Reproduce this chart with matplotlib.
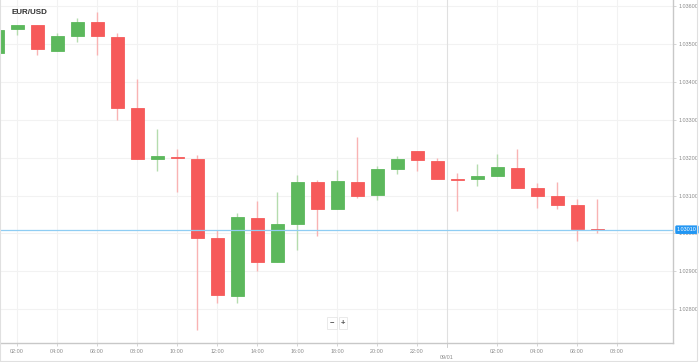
# EUR/USD hourly candles
from matplotlib import pyplot as plt
from matplotlib.patches import Rectangle

plt.rcParams["font.family"] = ["Liberation Sans", "DejaVu Sans"]

# hours counted from midnight of the first day (24 = 00:00 next day)
hours = list(range(1, 32))
opens = [1.03476, 1.03539, 1.03550, 1.03481, 1.03521, 1.03558, 1.03518, 1.03331,
         1.03196, 1.03202, 1.03196, 1.02988, 1.02835, 1.03041, 1.02924, 1.03025,
         1.03136, 1.03064, 1.03136, 1.03101, 1.03170, 1.03217, 1.03191, 1.03143,
         1.03143, 1.03151, 1.03172, 1.03120, 1.03099, 1.03075, 1.03013]
highs = [1.03537, 1.03550, 1.03550, 1.03529, 1.03568, 1.03584, 1.03529, 1.03407,
         1.03275, 1.03223, 1.03207, 1.03009, 1.03054, 1.03085, 1.03109, 1.03154,
         1.03141, 1.03167, 1.03254, 1.03178, 1.03204, 1.03217, 1.03199, 1.03159,
         1.03183, 1.03209, 1.03223, 1.03133, 1.03136, 1.03091, 1.03091]
lows = [1.03476, 1.03523, 1.03471, 1.03481, 1.03505, 1.03471, 1.03299, 1.03196,
        1.03165, 1.03109, 1.02745, 1.02816, 1.02816, 1.02901, 1.02924, 1.02956,
        1.02993, 1.03064, 1.03093, 1.03088, 1.03157, 1.03165, 1.03143, 1.03059,
        1.03125, 1.03151, 1.03120, 1.03067, 1.03064, 1.02980, 1.03001]
closes = [1.03537, 1.03550, 1.03487, 1.03521, 1.03558, 1.03521, 1.03331, 1.03196,
          1.03204, 1.03199, 1.02988, 1.02837, 1.03044, 1.02924, 1.03025, 1.03136,
          1.03064, 1.03138, 1.03099, 1.03170, 1.03196, 1.03194, 1.03143, 1.03141,
          1.03151, 1.03175, 1.03120, 1.03099, 1.03075, 1.03012, 1.03010]

last_price = 1.03010
price_ticks = [1.028, 1.029, 1.030, 1.031, 1.032, 1.033, 1.034, 1.035, 1.036]
time_ticks = [2, 4, 6, 8, 10, 12, 14, 16, 18, 20, 22, 26, 28, 30, 32]
time_labels = ["02:00", "04:00", "06:00", "08:00", "10:00", "12:00", "14:00", "16:00",
               "18:00", "20:00", "22:00", "02:00", "04:00", "06:00", "08:00"]
date_pos = 23.5
date_label = "09/01"

up_body, up_wick = "#5cb85c", "#b5dcae"
dn_body, dn_wick = "#f65a5a", "#f9b3b3"

fig = plt.figure(figsize=(6.99, 3.62), dpi=100)
ax = fig.add_axes([0, 19 / 362, 673 / 699, 343 / 362])

# grid
for p in price_ticks:
    ax.axhline(p, color="#f2f2f2", lw=0.8, zorder=0)
for t in time_ticks:
    ax.axvline(t, color="#f2f2f2", lw=0.8, zorder=0)
ax.axvline(date_pos, color="#e0e0e0", lw=0.8, zorder=0)

# candles
for h, o, hi, lo, c in zip(hours, opens, highs, lows, closes):
    body = up_body if c > o else dn_body
    wick = up_wick if c > o else dn_wick
    ax.vlines(h, lo, hi, color=wick, lw=1.0, zorder=2)
    ax.bar(h, abs(c - o), bottom=min(o, c), width=0.65, color=body,
           edgecolor=body, lw=0.6, zorder=3)

# current price line
ax.axhline(last_price, color="#8fcdf3", lw=0.9, zorder=4)

ax.set_xlim(1.15, 34.8)
ax.set_ylim(1.02711, 1.03616)

ax.yaxis.tick_right()
ax.set_yticks(price_ticks)
ax.set_yticklabels(["%.5f" % p for p in price_ticks])
ax.set_xticks(time_ticks)
ax.set_xticklabels(time_labels)
ax.tick_params(axis="both", labelsize=3.9, colors="#cfcfcf", labelcolor="#8a8a8a",
               length=2.5, width=0.6, pad=1.5)

for side in ["top", "left"]:
    ax.spines[side].set_visible(False)
for side in ["right", "bottom"]:
    ax.spines[side].set_color("#c8c8c8")
    ax.spines[side].set_linewidth(1.0)

# date label below the time labels
ax.text(date_pos, -0.036, date_label, transform=ax.get_xaxis_transform(),
        ha="center", va="top", fontsize=3.9, color="#8a8a8a")
ax.plot([date_pos, date_pos], [0, -0.012], transform=ax.get_xaxis_transform(),
        color="#c8c8c8", lw=0.6, clip_on=False)

# price label on the right axis
ax.text(1.006, last_price, "%.5f" % last_price, transform=ax.get_yaxis_transform(),
        ha="left", va="center", fontsize=3.9, color="white",
        bbox=dict(boxstyle="round,pad=0.2,rounding_size=0.15", fc="#2196f3", ec="#2196f3"))

# title
fig.text(11 / 699, 1 - 12 / 362, "EUR/USD", ha="left", va="center",
         fontsize=5.8, fontweight="bold", color="#333333")

# zoom buttons
for label, x in [("\u2212", 332), ("+", 343)]:
    fig.text(x / 699, 1 - 323 / 362, label, ha="center", va="center", fontsize=5.5,
             color="#555555", fontweight="bold",
             bbox=dict(boxstyle="square,pad=0.3", fc="white", ec="#e6e6e6", lw=0.6))

# outer frame
fig.patches.append(Rectangle((0, 1.5 / 362), 697 / 699, 1, transform=fig.transFigure,
                             fill=False, ec="#e0e0e0", lw=0.8))

plt.savefig("out.png", dpi=100)
